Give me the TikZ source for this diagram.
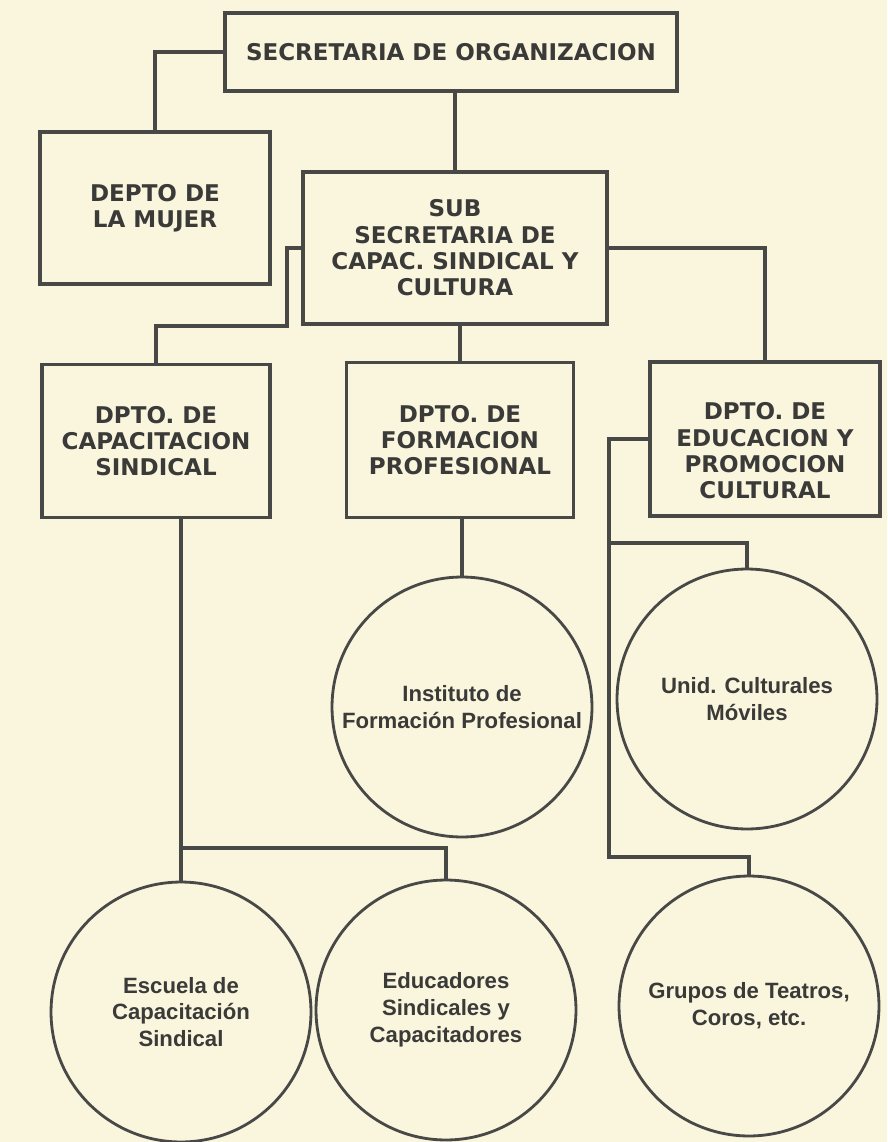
\documentclass[tikz,border=0pt]{standalone}
\usepackage{fontspec}
\setmainfont{DejaVu Sans}
\newfontfamily\circfont{Liberation Sans}
\definecolor{papel}{RGB}{250,245,221}
\definecolor{tinta}{RGB}{72,72,70}
\definecolor{letra}{RGB}{58,58,56}

\tikzset{
    caja/.style={draw=tinta, line width=2pt, fill=papel, align=center, text=letra,
        inner sep=0pt, font=\fontsize{13.1}{15}\selectfont\bfseries},
    circulo/.style={circle, draw=tinta, line width=1.6pt, fill=papel, minimum size=5.2cm,
        inner sep=0pt, align=center, text=letra,
        font=\circfont\fontsize{12.6}{15.3}\selectfont\bfseries},
    enlace/.style={draw=tinta, line width=2pt}
}

\begin{document}
\begin{tikzpicture}[x=0.02cm, y=-0.02cm]
    % Fondo
    \fill[papel] (0,0) rectangle (887,1142);
    \useasboundingbox (0,0) rectangle (887,1142);

    % Cajas
    \node[caja, minimum width=9.04cm, minimum height=1.56cm] (secorg) at (451,52) {SECRETARIA DE ORGANIZACION};
    \node[caja, minimum width=4.6cm, minimum height=3.04cm] (mujer) at (155,208) {DEPTO DE\\LA MUJER};
    \node[caja, minimum width=6.08cm, minimum height=3.04cm] (subsec) at (455,248) {SUB\\SECRETARIA DE\\CAPAC. SINDICAL Y\\CULTURA};
    \node[caja, minimum width=4.56cm, minimum height=3.06cm] (capac) at (156,441) {DPTO. DE\\CAPACITACION\\SINDICAL};
    \node[caja, minimum width=4.54cm, minimum height=3.1cm] (formac) at (460,440) {DPTO. DE\\FORMACION\\PROFESIONAL};
    \node[caja, minimum width=4.6cm, minimum height=3.08cm] (educ) at (765,439) {\rule{0pt}{0.82cm}DPTO. DE\\EDUCACION Y\\PROMOCION\\CULTURAL};

    % Circulos
    \node[circulo] (instit) at (462,707) {Instituto de\\Formación Profesional};
    \node[circulo] (unid) at (747,699) {Unid. Culturales\\Móviles};
    \node[circulo] (escuela) at (181,1012) {Escuela de\\Capacitación\\Sindical};
    \node[circulo] (educad) at (446,1010) {Educadores\\Sindicales y\\Capacitadores};
    \node[circulo] (grupos) at (749,1006) {Grupos de Teatros,\\Coros, etc.};

    % Codos de las lineas
    \coordinate (capcodo) at (287,326);
    \coordinate (esccodo) at (181,848);
    \coordinate (educodo) at (609,857);
    \coordinate (unidcodo) at (609,543);

    % Lineas
    \draw[enlace] (secorg.west) -| (mujer.north);
    \draw[enlace] (secorg.south -| subsec.north) -- (subsec.north);
    \draw[enlace] (subsec.west) -| (capcodo) -| (capac.north);
    \draw[enlace] (subsec.east) -| (educ.north);
    \draw[enlace] (formac.north |- subsec.south) -- (formac.north);
    \draw[enlace] (escuela.north |- capac.south) -- (escuela.north);
    \draw[enlace] (esccodo) -| (educad.north);
    \draw[enlace] (formac.south -| instit.north) -- (instit.north);
    \draw[enlace] (educ.west) -| (educodo) -| (grupos.north);
    \draw[enlace] (unidcodo) -| (unid.north);
\end{tikzpicture}
\end{document}
